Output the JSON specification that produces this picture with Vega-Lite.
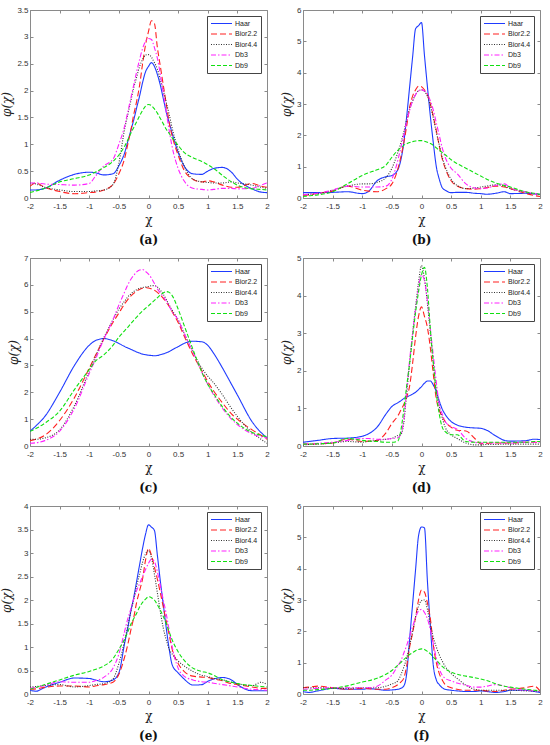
{
  "$schema": "https://vega.github.io/schema/vega-lite/v6.json",
  "padding": {"left": 0, "top": 5, "right": 4, "bottom": 0},
  "background": "white",
  "columns": 2,
  "spacing": {"row": 6, "column": 10},
  "resolve": {
    "scale": {"color": "independent", "strokeDash": "independent"},
    "legend": {"color": "independent", "strokeDash": "independent"}
  },
  "datasets": {
    "a": [
      {"x": -2, "Haar": 0.15, "Bior22": 0.22, "Bior44": 0.28, "Db3": 0.28, "Db9": 0.1},
      {"x": -1.9, "Haar": 0.15, "Bior22": 0.28, "Bior44": 0.26, "Db3": 0.28, "Db9": 0.13},
      {"x": -1.75, "Haar": 0.18, "Bior22": 0.2, "Bior44": 0.2, "Db3": 0.26, "Db9": 0.18},
      {"x": -1.5, "Haar": 0.33, "Bior22": 0.12, "Bior44": 0.15, "Db3": 0.25, "Db9": 0.3},
      {"x": -1.25, "Haar": 0.44, "Bior22": 0.08, "Bior44": 0.12, "Db3": 0.24, "Db9": 0.36},
      {"x": -1, "Haar": 0.48, "Bior22": 0.1, "Bior44": 0.12, "Db3": 0.27, "Db9": 0.43},
      {"x": -0.9, "Haar": 0.47, "Bior22": 0.11, "Bior44": 0.13, "Db3": 0.4, "Db9": 0.48},
      {"x": -0.75, "Haar": 0.43, "Bior22": 0.15, "Bior44": 0.15, "Db3": 0.6, "Db9": 0.57},
      {"x": -0.6, "Haar": 0.45, "Bior22": 0.25, "Bior44": 0.25, "Db3": 0.72, "Db9": 0.68},
      {"x": -0.5, "Haar": 0.6, "Bior22": 0.45, "Bior44": 0.65, "Db3": 1.0, "Db9": 0.8},
      {"x": -0.4, "Haar": 0.85, "Bior22": 0.75, "Bior44": 1.3, "Db3": 1.35, "Db9": 0.97},
      {"x": -0.35, "Haar": 1.05, "Bior22": 1.0, "Bior44": 1.55, "Db3": 1.6, "Db9": 1.08},
      {"x": -0.3, "Haar": 1.25, "Bior22": 1.25, "Bior44": 1.8, "Db3": 1.85, "Db9": 1.2},
      {"x": -0.25, "Haar": 1.45, "Bior22": 1.55, "Bior44": 2.05, "Db3": 2.1, "Db9": 1.31},
      {"x": -0.2, "Haar": 1.68, "Bior22": 1.8, "Bior44": 2.25, "Db3": 2.35, "Db9": 1.42},
      {"x": -0.15, "Haar": 1.9, "Bior22": 2.1, "Bior44": 2.45, "Db3": 2.58, "Db9": 1.53},
      {"x": -0.1, "Haar": 2.15, "Bior22": 2.5, "Bior44": 2.58, "Db3": 2.78, "Db9": 1.63},
      {"x": -0.05, "Haar": 2.35, "Bior22": 2.85, "Bior44": 2.66, "Db3": 2.92, "Db9": 1.71},
      {"x": 0, "Haar": 2.45, "Bior22": 3.1, "Bior44": 2.67, "Db3": 2.97, "Db9": 1.74},
      {"x": 0.05, "Haar": 2.52, "Bior22": 3.3, "Bior44": 2.62, "Db3": 2.95, "Db9": 1.72},
      {"x": 0.1, "Haar": 2.45, "Bior22": 3.25, "Bior44": 2.52, "Db3": 2.8, "Db9": 1.66},
      {"x": 0.15, "Haar": 2.3, "Bior22": 2.8, "Bior44": 2.4, "Db3": 2.6, "Db9": 1.58},
      {"x": 0.2, "Haar": 2.1, "Bior22": 2.45, "Bior44": 2.2, "Db3": 2.3, "Db9": 1.48},
      {"x": 0.25, "Haar": 1.85, "Bior22": 2.1, "Bior44": 2.0, "Db3": 1.95, "Db9": 1.38},
      {"x": 0.3, "Haar": 1.6, "Bior22": 1.75, "Bior44": 1.78, "Db3": 1.6, "Db9": 1.28},
      {"x": 0.35, "Haar": 1.4, "Bior22": 1.4, "Bior44": 1.55, "Db3": 1.25, "Db9": 1.2},
      {"x": 0.4, "Haar": 1.2, "Bior22": 1.15, "Bior44": 1.3, "Db3": 0.95, "Db9": 1.12},
      {"x": 0.5, "Haar": 0.85, "Bior22": 0.8, "Bior44": 0.9, "Db3": 0.55, "Db9": 0.98},
      {"x": 0.6, "Haar": 0.6, "Bior22": 0.52, "Bior44": 0.6, "Db3": 0.32, "Db9": 0.85},
      {"x": 0.75, "Haar": 0.45, "Bior22": 0.35, "Bior44": 0.35, "Db3": 0.18, "Db9": 0.75},
      {"x": 0.9, "Haar": 0.44, "Bior22": 0.3, "Bior44": 0.3, "Db3": 0.16, "Db9": 0.68},
      {"x": 1, "Haar": 0.5, "Bior22": 0.32, "Bior44": 0.29, "Db3": 0.15, "Db9": 0.62},
      {"x": 1.1, "Haar": 0.55, "Bior22": 0.3, "Bior44": 0.28, "Db3": 0.16, "Db9": 0.55},
      {"x": 1.25, "Haar": 0.57, "Bior22": 0.24, "Bior44": 0.28, "Db3": 0.18, "Db9": 0.42},
      {"x": 1.4, "Haar": 0.48, "Bior22": 0.2, "Bior44": 0.3, "Db3": 0.18, "Db9": 0.3},
      {"x": 1.5, "Haar": 0.35, "Bior22": 0.2, "Bior44": 0.28, "Db3": 0.17, "Db9": 0.24},
      {"x": 1.75, "Haar": 0.17, "Bior22": 0.27, "Bior44": 0.24, "Db3": 0.18, "Db9": 0.17},
      {"x": 1.9, "Haar": 0.11, "Bior22": 0.22, "Bior44": 0.2, "Db3": 0.24, "Db9": 0.16},
      {"x": 2, "Haar": 0.1, "Bior22": 0.2, "Bior44": 0.18, "Db3": 0.28, "Db9": 0.15}
    ],
    "b": [
      {"x": -2, "Haar": 0.17, "Bior22": 0.08, "Bior44": 0.1, "Db3": 0.1, "Db9": 0.05},
      {"x": -1.9, "Haar": 0.17, "Bior22": 0.1, "Bior44": 0.12, "Db3": 0.12, "Db9": 0.07},
      {"x": -1.75, "Haar": 0.17, "Bior22": 0.15, "Bior44": 0.14, "Db3": 0.15, "Db9": 0.1},
      {"x": -1.5, "Haar": 0.18, "Bior22": 0.22, "Bior44": 0.25, "Db3": 0.25, "Db9": 0.2},
      {"x": -1.25, "Haar": 0.2, "Bior22": 0.38, "Bior44": 0.38, "Db3": 0.38, "Db9": 0.45},
      {"x": -1, "Haar": 0.14, "Bior22": 0.25, "Bior44": 0.45, "Db3": 0.35, "Db9": 0.72},
      {"x": -0.9, "Haar": 0.2, "Bior22": 0.22, "Bior44": 0.45, "Db3": 0.35, "Db9": 0.8},
      {"x": -0.75, "Haar": 0.55, "Bior22": 0.2, "Bior44": 0.5, "Db3": 0.35, "Db9": 0.9},
      {"x": -0.6, "Haar": 0.68, "Bior22": 0.3, "Bior44": 0.65, "Db3": 0.38, "Db9": 1.05},
      {"x": -0.5, "Haar": 0.72, "Bior22": 0.45, "Bior44": 0.95, "Db3": 0.6, "Db9": 1.3},
      {"x": -0.4, "Haar": 0.9, "Bior22": 0.92, "Bior44": 1.45, "Db3": 1.2, "Db9": 1.52},
      {"x": -0.35, "Haar": 1.2, "Bior22": 1.3, "Bior44": 1.75, "Db3": 1.6, "Db9": 1.6},
      {"x": -0.3, "Haar": 1.75, "Bior22": 1.75, "Bior44": 2.1, "Db3": 2.0, "Db9": 1.68},
      {"x": -0.25, "Haar": 2.6, "Bior22": 2.3, "Bior44": 2.5, "Db3": 2.45, "Db9": 1.73},
      {"x": -0.2, "Haar": 3.55, "Bior22": 2.9, "Bior44": 2.85, "Db3": 2.8, "Db9": 1.77},
      {"x": -0.15, "Haar": 4.5, "Bior22": 3.25, "Bior44": 3.1, "Db3": 3.1, "Db9": 1.8},
      {"x": -0.1, "Haar": 5.4, "Bior22": 3.45, "Bior44": 3.3, "Db3": 3.3, "Db9": 1.82},
      {"x": -0.05, "Haar": 5.5, "Bior22": 3.57, "Bior44": 3.42, "Db3": 3.42, "Db9": 1.83},
      {"x": 0, "Haar": 5.6, "Bior22": 3.55, "Bior44": 3.45, "Db3": 3.45, "Db9": 1.83},
      {"x": 0.05, "Haar": 4.55, "Bior22": 3.45, "Bior44": 3.4, "Db3": 3.42, "Db9": 1.81},
      {"x": 0.1, "Haar": 3.55, "Bior22": 3.3, "Bior44": 3.25, "Db3": 3.32, "Db9": 1.78},
      {"x": 0.15, "Haar": 2.6, "Bior22": 3.0, "Bior44": 2.95, "Db3": 3.1, "Db9": 1.74},
      {"x": 0.2, "Haar": 1.75, "Bior22": 2.6, "Bior44": 2.55, "Db3": 2.8, "Db9": 1.68},
      {"x": 0.25, "Haar": 1.0, "Bior22": 2.15, "Bior44": 2.1, "Db3": 2.4, "Db9": 1.6},
      {"x": 0.3, "Haar": 0.6, "Bior22": 1.66, "Bior44": 1.7, "Db3": 2.0, "Db9": 1.52},
      {"x": 0.35, "Haar": 0.33, "Bior22": 1.25, "Bior44": 1.3, "Db3": 1.6, "Db9": 1.45},
      {"x": 0.4, "Haar": 0.25, "Bior22": 0.95, "Bior44": 1.0, "Db3": 1.3, "Db9": 1.38},
      {"x": 0.5, "Haar": 0.17, "Bior22": 0.55, "Bior44": 0.6, "Db3": 0.95, "Db9": 1.22},
      {"x": 0.6, "Haar": 0.18, "Bior22": 0.38, "Bior44": 0.4, "Db3": 0.78, "Db9": 1.1},
      {"x": 0.75, "Haar": 0.18, "Bior22": 0.3, "Bior44": 0.3, "Db3": 0.45, "Db9": 0.95},
      {"x": 0.9, "Haar": 0.15, "Bior22": 0.28, "Bior44": 0.32, "Db3": 0.32, "Db9": 0.8},
      {"x": 1, "Haar": 0.14, "Bior22": 0.3, "Bior44": 0.35, "Db3": 0.3, "Db9": 0.7},
      {"x": 1.1, "Haar": 0.12, "Bior22": 0.33, "Bior44": 0.38, "Db3": 0.32, "Db9": 0.6},
      {"x": 1.25, "Haar": 0.15, "Bior22": 0.38, "Bior44": 0.42, "Db3": 0.4, "Db9": 0.48},
      {"x": 1.4, "Haar": 0.2, "Bior22": 0.35, "Bior44": 0.38, "Db3": 0.45, "Db9": 0.4},
      {"x": 1.5, "Haar": 0.14, "Bior22": 0.3, "Bior44": 0.3, "Db3": 0.32, "Db9": 0.35},
      {"x": 1.75, "Haar": 0.15, "Bior22": 0.15, "Bior44": 0.2, "Db3": 0.2, "Db9": 0.2},
      {"x": 1.9, "Haar": 0.13, "Bior22": 0.08, "Bior44": 0.14, "Db3": 0.14, "Db9": 0.15},
      {"x": 2, "Haar": 0.12, "Bior22": 0.05, "Bior44": 0.1, "Db3": 0.1, "Db9": 0.12}
    ],
    "c": [
      {"x": -2, "Haar": 0.55, "Bior22": 0.2, "Bior44": 0.25, "Db3": 0.1, "Db9": 0.55},
      {"x": -1.9, "Haar": 0.75, "Bior22": 0.25, "Bior44": 0.25, "Db3": 0.12, "Db9": 0.65},
      {"x": -1.75, "Haar": 1.1, "Bior22": 0.4, "Bior44": 0.3, "Db3": 0.2, "Db9": 0.85},
      {"x": -1.5, "Haar": 2.0, "Bior22": 0.95, "Bior44": 0.6, "Db3": 0.55, "Db9": 1.3},
      {"x": -1.25, "Haar": 3.0, "Bior22": 1.8, "Bior44": 1.5, "Db3": 1.4, "Db9": 2.1},
      {"x": -1, "Haar": 3.75, "Bior22": 2.9, "Bior44": 2.8, "Db3": 2.7, "Db9": 2.85},
      {"x": -0.9, "Haar": 3.92, "Bior22": 3.35, "Bior44": 3.3, "Db3": 3.2, "Db9": 3.15},
      {"x": -0.75, "Haar": 4.0, "Bior22": 4.0, "Bior44": 4.05, "Db3": 4.0, "Db9": 3.4},
      {"x": -0.6, "Haar": 3.92, "Bior22": 4.6, "Bior44": 4.7, "Db3": 4.7, "Db9": 3.75},
      {"x": -0.5, "Haar": 3.82, "Bior22": 4.95, "Bior44": 5.1, "Db3": 5.25, "Db9": 4.05},
      {"x": -0.4, "Haar": 3.7, "Bior22": 5.3, "Bior44": 5.4, "Db3": 5.75, "Db9": 4.3},
      {"x": -0.35, "Haar": 3.65, "Bior22": 5.45, "Bior44": 5.55, "Db3": 6.0, "Db9": 4.42},
      {"x": -0.3, "Haar": 3.6, "Bior22": 5.58, "Bior44": 5.65, "Db3": 6.2, "Db9": 4.55},
      {"x": -0.25, "Haar": 3.55, "Bior22": 5.68, "Bior44": 5.75, "Db3": 6.35, "Db9": 4.68},
      {"x": -0.2, "Haar": 3.5, "Bior22": 5.77, "Bior44": 5.82, "Db3": 6.48, "Db9": 4.8},
      {"x": -0.15, "Haar": 3.46, "Bior22": 5.83, "Bior44": 5.87, "Db3": 6.55, "Db9": 4.92},
      {"x": -0.1, "Haar": 3.42, "Bior22": 5.87, "Bior44": 5.9, "Db3": 6.57, "Db9": 5.03},
      {"x": -0.05, "Haar": 3.4, "Bior22": 5.9, "Bior44": 5.92, "Db3": 6.5, "Db9": 5.13},
      {"x": 0, "Haar": 3.38, "Bior22": 5.88, "Bior44": 5.94, "Db3": 6.4, "Db9": 5.22},
      {"x": 0.05, "Haar": 3.37, "Bior22": 5.85, "Bior44": 5.97, "Db3": 6.25, "Db9": 5.32},
      {"x": 0.1, "Haar": 3.36, "Bior22": 5.8, "Bior44": 5.97, "Db3": 6.05, "Db9": 5.42},
      {"x": 0.15, "Haar": 3.37, "Bior22": 5.72, "Bior44": 5.92, "Db3": 5.85, "Db9": 5.52},
      {"x": 0.2, "Haar": 3.4, "Bior22": 5.62, "Bior44": 5.8, "Db3": 5.7, "Db9": 5.62},
      {"x": 0.25, "Haar": 3.43, "Bior22": 5.5, "Bior44": 5.65, "Db3": 5.55, "Db9": 5.7},
      {"x": 0.3, "Haar": 3.47, "Bior22": 5.35, "Bior44": 5.45, "Db3": 5.4, "Db9": 5.75},
      {"x": 0.35, "Haar": 3.52, "Bior22": 5.2, "Bior44": 5.25, "Db3": 5.2, "Db9": 5.72},
      {"x": 0.4, "Haar": 3.58, "Bior22": 5.0, "Bior44": 5.05, "Db3": 5.0, "Db9": 5.6},
      {"x": 0.5, "Haar": 3.7, "Bior22": 4.6, "Bior44": 4.7, "Db3": 4.7, "Db9": 5.1},
      {"x": 0.6, "Haar": 3.82, "Bior22": 4.1, "Bior44": 4.2, "Db3": 4.2, "Db9": 4.5},
      {"x": 0.75, "Haar": 3.9, "Bior22": 3.4, "Bior44": 3.5, "Db3": 3.5, "Db9": 3.6},
      {"x": 0.9, "Haar": 3.88, "Bior22": 2.8, "Bior44": 2.9, "Db3": 2.75, "Db9": 2.75},
      {"x": 1, "Haar": 3.75, "Bior22": 2.4, "Bior44": 2.6, "Db3": 2.3, "Db9": 2.3},
      {"x": 1.1, "Haar": 3.45, "Bior22": 2.05, "Bior44": 2.35, "Db3": 1.9, "Db9": 1.95},
      {"x": 1.25, "Haar": 2.9, "Bior22": 1.6, "Bior44": 1.9, "Db3": 1.4, "Db9": 1.45},
      {"x": 1.4, "Haar": 2.3, "Bior22": 1.2, "Bior44": 1.4, "Db3": 1.0, "Db9": 1.05},
      {"x": 1.5, "Haar": 1.9, "Bior22": 1.0, "Bior44": 1.1, "Db3": 0.8, "Db9": 0.85},
      {"x": 1.75, "Haar": 0.9, "Bior22": 0.6, "Bior44": 0.5, "Db3": 0.45, "Db9": 0.5},
      {"x": 1.9, "Haar": 0.5, "Bior22": 0.4, "Bior44": 0.25, "Db3": 0.35, "Db9": 0.4},
      {"x": 2, "Haar": 0.3, "Bior22": 0.25, "Bior44": 0.1, "Db3": 0.3, "Db9": 0.35}
    ],
    "d": [
      {"x": -2, "Haar": 0.1, "Bior22": 0.05, "Bior44": 0.03, "Db3": 0.05, "Db9": 0.05},
      {"x": -1.9, "Haar": 0.12, "Bior22": 0.05, "Bior44": 0.04, "Db3": 0.05, "Db9": 0.05},
      {"x": -1.75, "Haar": 0.15, "Bior22": 0.06, "Bior44": 0.05, "Db3": 0.07, "Db9": 0.06},
      {"x": -1.5, "Haar": 0.2, "Bior22": 0.08, "Bior44": 0.08, "Db3": 0.1, "Db9": 0.08},
      {"x": -1.25, "Haar": 0.21, "Bior22": 0.18, "Bior44": 0.12, "Db3": 0.15, "Db9": 0.2},
      {"x": -1, "Haar": 0.26, "Bior22": 0.12, "Bior44": 0.1, "Db3": 0.2, "Db9": 0.15},
      {"x": -0.9, "Haar": 0.32, "Bior22": 0.13, "Bior44": 0.12, "Db3": 0.2, "Db9": 0.13},
      {"x": -0.75, "Haar": 0.5, "Bior22": 0.15, "Bior44": 0.15, "Db3": 0.18, "Db9": 0.12},
      {"x": -0.6, "Haar": 0.85, "Bior22": 0.35, "Bior44": 0.18, "Db3": 0.18, "Db9": 0.1},
      {"x": -0.5, "Haar": 1.05, "Bior22": 0.6, "Bior44": 0.2, "Db3": 0.2, "Db9": 0.1},
      {"x": -0.4, "Haar": 1.15, "Bior22": 0.8, "Bior44": 0.28, "Db3": 0.22, "Db9": 0.13},
      {"x": -0.35, "Haar": 1.2, "Bior22": 0.95, "Bior44": 0.3, "Db3": 0.3, "Db9": 0.4},
      {"x": -0.3, "Haar": 1.26, "Bior22": 1.1, "Bior44": 0.6, "Db3": 0.7, "Db9": 0.95},
      {"x": -0.25, "Haar": 1.3, "Bior22": 1.3, "Bior44": 1.4, "Db3": 1.5, "Db9": 1.6},
      {"x": -0.2, "Haar": 1.34, "Bior22": 1.6, "Bior44": 2.2, "Db3": 2.3, "Db9": 2.2},
      {"x": -0.15, "Haar": 1.38, "Bior22": 2.2, "Bior44": 3.0, "Db3": 3.0, "Db9": 2.9},
      {"x": -0.1, "Haar": 1.43, "Bior22": 2.9, "Bior44": 3.7, "Db3": 3.65, "Db9": 3.55},
      {"x": -0.05, "Haar": 1.5, "Bior22": 3.45, "Bior44": 4.35, "Db3": 4.2, "Db9": 4.1},
      {"x": 0, "Haar": 1.58, "Bior22": 3.7, "Bior44": 4.8, "Db3": 4.55, "Db9": 4.55},
      {"x": 0.05, "Haar": 1.67, "Bior22": 3.45, "Bior44": 4.45, "Db3": 4.4, "Db9": 4.75},
      {"x": 0.1, "Haar": 1.73, "Bior22": 3.15, "Bior44": 3.8, "Db3": 3.85, "Db9": 4.2},
      {"x": 0.15, "Haar": 1.73, "Bior22": 2.6, "Bior44": 3.0, "Db3": 3.1, "Db9": 3.1},
      {"x": 0.2, "Haar": 1.62, "Bior22": 1.9, "Bior44": 2.2, "Db3": 2.4, "Db9": 2.2},
      {"x": 0.25, "Haar": 1.45, "Bior22": 1.25, "Bior44": 1.5, "Db3": 1.7, "Db9": 1.4},
      {"x": 0.3, "Haar": 1.2, "Bior22": 0.95, "Bior44": 1.05, "Db3": 1.1, "Db9": 0.85},
      {"x": 0.35, "Haar": 0.98, "Bior22": 0.78, "Bior44": 0.75, "Db3": 0.85, "Db9": 0.5},
      {"x": 0.4, "Haar": 0.84, "Bior22": 0.65, "Bior44": 0.5, "Db3": 0.65, "Db9": 0.38},
      {"x": 0.5, "Haar": 0.65, "Bior22": 0.5, "Bior44": 0.3, "Db3": 0.52, "Db9": 0.3},
      {"x": 0.6, "Haar": 0.56, "Bior22": 0.42, "Bior44": 0.2, "Db3": 0.45, "Db9": 0.3},
      {"x": 0.75, "Haar": 0.5, "Bior22": 0.4, "Bior44": 0.08, "Db3": 0.2, "Db9": 0.12},
      {"x": 0.9, "Haar": 0.48, "Bior22": 0.2, "Bior44": 0.03, "Db3": 0.1, "Db9": 0.1},
      {"x": 1, "Haar": 0.47, "Bior22": 0.06, "Bior44": 0.03, "Db3": 0.08, "Db9": 0.1},
      {"x": 1.1, "Haar": 0.42, "Bior22": 0.07, "Bior44": 0.04, "Db3": 0.08, "Db9": 0.1},
      {"x": 1.25, "Haar": 0.27, "Bior22": 0.08, "Bior44": 0.04, "Db3": 0.08, "Db9": 0.1},
      {"x": 1.4, "Haar": 0.15, "Bior22": 0.08, "Bior44": 0.05, "Db3": 0.08, "Db9": 0.1},
      {"x": 1.5, "Haar": 0.13, "Bior22": 0.08, "Bior44": 0.05, "Db3": 0.08, "Db9": 0.1},
      {"x": 1.75, "Haar": 0.14, "Bior22": 0.1, "Bior44": 0.05, "Db3": 0.1, "Db9": 0.1},
      {"x": 1.9, "Haar": 0.18, "Bior22": 0.1, "Bior44": 0.05, "Db3": 0.1, "Db9": 0.12},
      {"x": 2, "Haar": 0.17, "Bior22": 0.1, "Bior44": 0.05, "Db3": 0.1, "Db9": 0.12}
    ],
    "e": [
      {"x": -2, "Haar": 0.08, "Bior22": 0.1, "Bior44": 0.15, "Db3": 0.12, "Db9": 0.1},
      {"x": -1.9, "Haar": 0.06, "Bior22": 0.11, "Bior44": 0.16, "Db3": 0.14, "Db9": 0.14},
      {"x": -1.75, "Haar": 0.14, "Bior22": 0.14, "Bior44": 0.18, "Db3": 0.18, "Db9": 0.2},
      {"x": -1.5, "Haar": 0.25, "Bior22": 0.17, "Bior44": 0.2, "Db3": 0.26, "Db9": 0.3},
      {"x": -1.25, "Haar": 0.34, "Bior22": 0.17, "Bior44": 0.15, "Db3": 0.25, "Db9": 0.4},
      {"x": -1, "Haar": 0.33, "Bior22": 0.15, "Bior44": 0.18, "Db3": 0.25, "Db9": 0.48},
      {"x": -0.9, "Haar": 0.3, "Bior22": 0.17, "Bior44": 0.2, "Db3": 0.28, "Db9": 0.52},
      {"x": -0.75, "Haar": 0.26, "Bior22": 0.2, "Bior44": 0.22, "Db3": 0.36, "Db9": 0.6},
      {"x": -0.6, "Haar": 0.3, "Bior22": 0.25, "Bior44": 0.32, "Db3": 0.55, "Db9": 0.75},
      {"x": -0.5, "Haar": 0.45, "Bior22": 0.42, "Bior44": 0.65, "Db3": 0.85, "Db9": 0.95},
      {"x": -0.4, "Haar": 1.1, "Bior22": 0.8, "Bior44": 1.15, "Db3": 1.35, "Db9": 1.18},
      {"x": -0.35, "Haar": 1.4, "Bior22": 1.05, "Bior44": 1.45, "Db3": 1.6, "Db9": 1.32},
      {"x": -0.3, "Haar": 1.75, "Bior22": 1.35, "Bior44": 1.75, "Db3": 1.8, "Db9": 1.48},
      {"x": -0.25, "Haar": 2.05, "Bior22": 1.62, "Bior44": 2.0, "Db3": 2.02, "Db9": 1.6},
      {"x": -0.2, "Haar": 2.4, "Bior22": 1.95, "Bior44": 2.3, "Db3": 2.2, "Db9": 1.72},
      {"x": -0.15, "Haar": 2.75, "Bior22": 2.2, "Bior44": 2.55, "Db3": 2.35, "Db9": 1.85},
      {"x": -0.1, "Haar": 3.1, "Bior22": 2.45, "Bior44": 2.8, "Db3": 2.5, "Db9": 1.95},
      {"x": -0.05, "Haar": 3.4, "Bior22": 2.85, "Bior44": 2.98, "Db3": 2.65, "Db9": 2.02},
      {"x": 0, "Haar": 3.6, "Bior22": 3.1, "Bior44": 3.05, "Db3": 2.78, "Db9": 2.07},
      {"x": 0.05, "Haar": 3.55, "Bior22": 2.95, "Bior44": 2.9, "Db3": 2.87, "Db9": 2.05},
      {"x": 0.1, "Haar": 3.48, "Bior22": 2.7, "Bior44": 2.55, "Db3": 2.82, "Db9": 2.0},
      {"x": 0.15, "Haar": 2.95, "Bior22": 2.44, "Bior44": 2.15, "Db3": 2.6, "Db9": 1.9},
      {"x": 0.2, "Haar": 2.4, "Bior22": 2.15, "Bior44": 1.75, "Db3": 2.3, "Db9": 1.78},
      {"x": 0.25, "Haar": 1.9, "Bior22": 1.85, "Bior44": 1.4, "Db3": 2.0, "Db9": 1.65},
      {"x": 0.3, "Haar": 1.4, "Bior22": 1.55, "Bior44": 1.15, "Db3": 1.7, "Db9": 1.5},
      {"x": 0.35, "Haar": 0.95, "Bior22": 1.25, "Bior44": 0.95, "Db3": 1.35, "Db9": 1.32},
      {"x": 0.4, "Haar": 0.62, "Bior22": 0.95, "Bior44": 0.85, "Db3": 1.0, "Db9": 1.15},
      {"x": 0.5, "Haar": 0.45, "Bior22": 0.65, "Bior44": 0.7, "Db3": 0.55, "Db9": 0.9},
      {"x": 0.6, "Haar": 0.32, "Bior22": 0.48, "Bior44": 0.6, "Db3": 0.38, "Db9": 0.72},
      {"x": 0.75, "Haar": 0.19, "Bior22": 0.38, "Bior44": 0.48, "Db3": 0.3, "Db9": 0.55},
      {"x": 0.9, "Haar": 0.2, "Bior22": 0.36, "Bior44": 0.4, "Db3": 0.26, "Db9": 0.48},
      {"x": 1, "Haar": 0.27, "Bior22": 0.35, "Bior44": 0.37, "Db3": 0.25, "Db9": 0.45},
      {"x": 1.1, "Haar": 0.32, "Bior22": 0.32, "Bior44": 0.33, "Db3": 0.23, "Db9": 0.4},
      {"x": 1.25, "Haar": 0.35, "Bior22": 0.28, "Bior44": 0.3, "Db3": 0.2, "Db9": 0.3},
      {"x": 1.4, "Haar": 0.3, "Bior22": 0.22, "Bior44": 0.25, "Db3": 0.17, "Db9": 0.25},
      {"x": 1.5, "Haar": 0.2, "Bior22": 0.2, "Bior44": 0.22, "Db3": 0.15, "Db9": 0.22},
      {"x": 1.75, "Haar": 0.07, "Bior22": 0.15, "Bior44": 0.18, "Db3": 0.1, "Db9": 0.18},
      {"x": 1.9, "Haar": 0.07, "Bior22": 0.12, "Bior44": 0.25, "Db3": 0.09, "Db9": 0.16},
      {"x": 2, "Haar": 0.07, "Bior22": 0.12, "Bior44": 0.2, "Db3": 0.08, "Db9": 0.15}
    ],
    "f": [
      {"x": -2, "Haar": 0.08, "Bior22": 0.2, "Bior44": 0.2, "Db3": 0.15, "Db9": 0.12},
      {"x": -1.9, "Haar": 0.05, "Bior22": 0.22, "Bior44": 0.2, "Db3": 0.16, "Db9": 0.12},
      {"x": -1.75, "Haar": 0.1, "Bior22": 0.25, "Bior44": 0.2, "Db3": 0.18, "Db9": 0.14},
      {"x": -1.5, "Haar": 0.18, "Bior22": 0.2, "Bior44": 0.18, "Db3": 0.2, "Db9": 0.18},
      {"x": -1.25, "Haar": 0.15, "Bior22": 0.15, "Bior44": 0.18, "Db3": 0.2, "Db9": 0.26},
      {"x": -1, "Haar": 0.15, "Bior22": 0.18, "Bior44": 0.2, "Db3": 0.2, "Db9": 0.38},
      {"x": -0.9, "Haar": 0.17, "Bior22": 0.17, "Bior44": 0.2, "Db3": 0.2, "Db9": 0.42},
      {"x": -0.75, "Haar": 0.15, "Bior22": 0.15, "Bior44": 0.2, "Db3": 0.25, "Db9": 0.5},
      {"x": -0.6, "Haar": 0.12, "Bior22": 0.15, "Bior44": 0.25, "Db3": 0.45, "Db9": 0.63},
      {"x": -0.5, "Haar": 0.13, "Bior22": 0.2, "Bior44": 0.32, "Db3": 0.6, "Db9": 0.75},
      {"x": -0.4, "Haar": 0.15, "Bior22": 0.3, "Bior44": 0.42, "Db3": 0.9, "Db9": 0.92},
      {"x": -0.35, "Haar": 0.18, "Bior22": 0.38, "Bior44": 0.6, "Db3": 1.05, "Db9": 1.0},
      {"x": -0.3, "Haar": 0.25, "Bior22": 0.5, "Bior44": 0.85, "Db3": 1.3, "Db9": 1.1},
      {"x": -0.25, "Haar": 0.65, "Bior22": 0.9, "Bior44": 1.15, "Db3": 1.55, "Db9": 1.18},
      {"x": -0.2, "Haar": 1.77, "Bior22": 1.5, "Bior44": 1.55, "Db3": 1.85, "Db9": 1.26},
      {"x": -0.15, "Haar": 2.87, "Bior22": 1.95, "Bior44": 2.0, "Db3": 2.15, "Db9": 1.32},
      {"x": -0.1, "Haar": 3.97, "Bior22": 2.45, "Bior44": 2.45, "Db3": 2.45, "Db9": 1.38},
      {"x": -0.05, "Haar": 5.05, "Bior22": 3.0, "Bior44": 2.8, "Db3": 2.65, "Db9": 1.42},
      {"x": 0, "Haar": 5.33, "Bior22": 3.32, "Bior44": 2.98, "Db3": 2.7, "Db9": 1.44},
      {"x": 0.05, "Haar": 5.3, "Bior22": 3.25, "Bior44": 3.0, "Db3": 2.6, "Db9": 1.42},
      {"x": 0.1, "Haar": 3.6, "Bior22": 2.9, "Bior44": 2.7, "Db3": 2.4, "Db9": 1.36},
      {"x": 0.15, "Haar": 2.15, "Bior22": 2.4, "Bior44": 2.2, "Db3": 2.05, "Db9": 1.28},
      {"x": 0.2, "Haar": 0.9, "Bior22": 1.55, "Bior44": 1.8, "Db3": 1.6, "Db9": 1.18},
      {"x": 0.25, "Haar": 0.45, "Bior22": 1.0, "Bior44": 1.5, "Db3": 1.15, "Db9": 1.08},
      {"x": 0.3, "Haar": 0.3, "Bior22": 0.65, "Bior44": 1.25, "Db3": 0.8, "Db9": 0.98},
      {"x": 0.35, "Haar": 0.2, "Bior22": 0.45, "Bior44": 1.05, "Db3": 0.6, "Db9": 0.88},
      {"x": 0.4, "Haar": 0.15, "Bior22": 0.3, "Bior44": 0.88, "Db3": 0.5, "Db9": 0.8},
      {"x": 0.5, "Haar": 0.12, "Bior22": 0.2, "Bior44": 0.65, "Db3": 0.42, "Db9": 0.7},
      {"x": 0.6, "Haar": 0.1, "Bior22": 0.15, "Bior44": 0.5, "Db3": 0.35, "Db9": 0.63},
      {"x": 0.75, "Haar": 0.08, "Bior22": 0.12, "Bior44": 0.28, "Db3": 0.28, "Db9": 0.57},
      {"x": 0.9, "Haar": 0.08, "Bior22": 0.12, "Bior44": 0.15, "Db3": 0.22, "Db9": 0.52},
      {"x": 1, "Haar": 0.1, "Bior22": 0.12, "Bior44": 0.12, "Db3": 0.22, "Db9": 0.48},
      {"x": 1.1, "Haar": 0.08, "Bior22": 0.1, "Bior44": 0.12, "Db3": 0.25, "Db9": 0.43},
      {"x": 1.25, "Haar": 0.05, "Bior22": 0.08, "Bior44": 0.12, "Db3": 0.3, "Db9": 0.33},
      {"x": 1.4, "Haar": 0.08, "Bior22": 0.12, "Bior44": 0.12, "Db3": 0.25, "Db9": 0.25},
      {"x": 1.5, "Haar": 0.12, "Bior22": 0.15, "Bior44": 0.12, "Db3": 0.2, "Db9": 0.22},
      {"x": 1.75, "Haar": 0.12, "Bior22": 0.2, "Bior44": 0.1, "Db3": 0.12, "Db9": 0.15},
      {"x": 1.9, "Haar": 0.08, "Bior22": 0.25, "Bior44": 0.09, "Db3": 0.1, "Db9": 0.12},
      {"x": 2, "Haar": 0.05, "Bior22": 0.1, "Bior44": 0.08, "Db3": 0.08, "Db9": 0.1}
    ]
  },
  "concat": [
    {
      "data": {"name": "a"},
      "title": {"text": "(a)"},
      "width": 237, "height": 188,
      "transform": [{"fold": ["Haar", "Bior22", "Bior44", "Db3", "Db9"], "as": ["s", "y"]}],
      "resolve": {"axis": {"x": "independent", "y": "independent"}},
      "layer": [
        {
          "mark": {"type": "line", "strokeWidth": 1.1, "interpolate": "monotone", "clip": true},
          "encoding": {
            "x": {"field": "x", "type": "quantitative", "title": "χ", "scale": {"domain": [-2, 2]}, "axis": {"values": [-2, -1.5, -1, -0.5, 0, 0.5, 1, 1.5, 2], "labelExpr": "replace(format(datum.value, '~g'), '−', '-')"}},
            "y": {"field": "y", "type": "quantitative", "title": "φ(χ)", "scale": {"domain": [0, 3.5]}, "axis": {"values": [0, 0.5, 1, 1.5, 2, 2.5, 3, 3.5], "format": "~g", "titleFontStyle": "italic"}},
            "color": {"field": "s", "type": "nominal", "title": null, "scale": {"domain": ["Haar", "Bior22", "Bior44", "Db3", "Db9"], "range": ["#1f3bff", "#ff2020", "#333333", "#ff20ff", "#10e010"]}, "legend": {"labelExpr": "datum.label == 'Bior22' ? 'Bior2.2' : datum.label == 'Bior44' ? 'Bior4.4' : datum.label"}},
            "strokeDash": {"field": "s", "type": "nominal", "title": null, "scale": {"domain": ["Haar", "Bior22", "Bior44", "Db3", "Db9"], "range": [[1, 0], [6, 3], [1, 1.5], [5, 2, 1.5, 2], [4, 2]]}, "legend": {"labelExpr": "datum.label == 'Bior22' ? 'Bior2.2' : datum.label == 'Bior44' ? 'Bior4.4' : datum.label"}}
          }
        },
        {
          "mark": {"type": "line", "opacity": 0},
          "encoding": {
            "x": {"field": "x", "type": "quantitative", "axis": {"orient": "top", "labels": false, "domain": false, "title": null, "values": [-2, -1.5, -1, -0.5, 0, 0.5, 1, 1.5, 2]}},
            "y": {"field": "y", "type": "quantitative", "axis": {"orient": "right", "labels": false, "domain": false, "title": null, "values": [0, 0.5, 1, 1.5, 2, 2.5, 3, 3.5]}}
          }
        }
      ]
    },
    {
      "data": {"name": "b"},
      "title": {"text": "(b)"},
      "width": 237, "height": 188,
      "transform": [{"fold": ["Haar", "Bior22", "Bior44", "Db3", "Db9"], "as": ["s", "y"]}],
      "resolve": {"axis": {"x": "independent", "y": "independent"}},
      "layer": [
        {
          "mark": {"type": "line", "strokeWidth": 1.1, "interpolate": "monotone", "clip": true},
          "encoding": {
            "x": {"field": "x", "type": "quantitative", "title": "χ", "scale": {"domain": [-2, 2]}, "axis": {"values": [-2, -1.5, -1, -0.5, 0, 0.5, 1, 1.5, 2], "labelExpr": "replace(format(datum.value, '~g'), '−', '-')"}},
            "y": {"field": "y", "type": "quantitative", "title": "φ(χ)", "scale": {"domain": [0, 6]}, "axis": {"values": [0, 1, 2, 3, 4, 5, 6], "format": "~g", "titleFontStyle": "italic"}},
            "color": {"field": "s", "type": "nominal", "title": null, "scale": {"domain": ["Haar", "Bior22", "Bior44", "Db3", "Db9"], "range": ["#1f3bff", "#ff2020", "#333333", "#ff20ff", "#10e010"]}, "legend": {"labelExpr": "datum.label == 'Bior22' ? 'Bior2.2' : datum.label == 'Bior44' ? 'Bior4.4' : datum.label"}},
            "strokeDash": {"field": "s", "type": "nominal", "title": null, "scale": {"domain": ["Haar", "Bior22", "Bior44", "Db3", "Db9"], "range": [[1, 0], [6, 3], [1, 1.5], [5, 2, 1.5, 2], [4, 2]]}, "legend": {"labelExpr": "datum.label == 'Bior22' ? 'Bior2.2' : datum.label == 'Bior44' ? 'Bior4.4' : datum.label"}}
          }
        },
        {
          "mark": {"type": "line", "opacity": 0},
          "encoding": {
            "x": {"field": "x", "type": "quantitative", "axis": {"orient": "top", "labels": false, "domain": false, "title": null, "values": [-2, -1.5, -1, -0.5, 0, 0.5, 1, 1.5, 2]}},
            "y": {"field": "y", "type": "quantitative", "axis": {"orient": "right", "labels": false, "domain": false, "title": null, "values": [0, 1, 2, 3, 4, 5, 6]}}
          }
        }
      ]
    },
    {
      "data": {"name": "c"},
      "title": {"text": "(c)"},
      "width": 237, "height": 188,
      "transform": [{"fold": ["Haar", "Bior22", "Bior44", "Db3", "Db9"], "as": ["s", "y"]}],
      "resolve": {"axis": {"x": "independent", "y": "independent"}},
      "layer": [
        {
          "mark": {"type": "line", "strokeWidth": 1.1, "interpolate": "monotone", "clip": true},
          "encoding": {
            "x": {"field": "x", "type": "quantitative", "title": "χ", "scale": {"domain": [-2, 2]}, "axis": {"values": [-2, -1.5, -1, -0.5, 0, 0.5, 1, 1.5, 2], "labelExpr": "replace(format(datum.value, '~g'), '−', '-')"}},
            "y": {"field": "y", "type": "quantitative", "title": "φ(χ)", "scale": {"domain": [0, 7]}, "axis": {"values": [0, 1, 2, 3, 4, 5, 6, 7], "format": "~g", "titleFontStyle": "italic"}},
            "color": {"field": "s", "type": "nominal", "title": null, "scale": {"domain": ["Haar", "Bior22", "Bior44", "Db3", "Db9"], "range": ["#1f3bff", "#ff2020", "#333333", "#ff20ff", "#10e010"]}, "legend": {"labelExpr": "datum.label == 'Bior22' ? 'Bior2.2' : datum.label == 'Bior44' ? 'Bior4.4' : datum.label"}},
            "strokeDash": {"field": "s", "type": "nominal", "title": null, "scale": {"domain": ["Haar", "Bior22", "Bior44", "Db3", "Db9"], "range": [[1, 0], [6, 3], [1, 1.5], [5, 2, 1.5, 2], [4, 2]]}, "legend": {"labelExpr": "datum.label == 'Bior22' ? 'Bior2.2' : datum.label == 'Bior44' ? 'Bior4.4' : datum.label"}}
          }
        },
        {
          "mark": {"type": "line", "opacity": 0},
          "encoding": {
            "x": {"field": "x", "type": "quantitative", "axis": {"orient": "top", "labels": false, "domain": false, "title": null, "values": [-2, -1.5, -1, -0.5, 0, 0.5, 1, 1.5, 2]}},
            "y": {"field": "y", "type": "quantitative", "axis": {"orient": "right", "labels": false, "domain": false, "title": null, "values": [0, 1, 2, 3, 4, 5, 6, 7]}}
          }
        }
      ]
    },
    {
      "data": {"name": "d"},
      "title": {"text": "(d)"},
      "width": 237, "height": 188,
      "transform": [{"fold": ["Haar", "Bior22", "Bior44", "Db3", "Db9"], "as": ["s", "y"]}],
      "resolve": {"axis": {"x": "independent", "y": "independent"}},
      "layer": [
        {
          "mark": {"type": "line", "strokeWidth": 1.1, "interpolate": "monotone", "clip": true},
          "encoding": {
            "x": {"field": "x", "type": "quantitative", "title": "χ", "scale": {"domain": [-2, 2]}, "axis": {"values": [-2, -1.5, -1, -0.5, 0, 0.5, 1, 1.5, 2], "labelExpr": "replace(format(datum.value, '~g'), '−', '-')"}},
            "y": {"field": "y", "type": "quantitative", "title": "φ(χ)", "scale": {"domain": [0, 5]}, "axis": {"values": [0, 1, 2, 3, 4, 5], "format": "~g", "titleFontStyle": "italic"}},
            "color": {"field": "s", "type": "nominal", "title": null, "scale": {"domain": ["Haar", "Bior22", "Bior44", "Db3", "Db9"], "range": ["#1f3bff", "#ff2020", "#333333", "#ff20ff", "#10e010"]}, "legend": {"labelExpr": "datum.label == 'Bior22' ? 'Bior2.2' : datum.label == 'Bior44' ? 'Bior4.4' : datum.label"}},
            "strokeDash": {"field": "s", "type": "nominal", "title": null, "scale": {"domain": ["Haar", "Bior22", "Bior44", "Db3", "Db9"], "range": [[1, 0], [6, 3], [1, 1.5], [5, 2, 1.5, 2], [4, 2]]}, "legend": {"labelExpr": "datum.label == 'Bior22' ? 'Bior2.2' : datum.label == 'Bior44' ? 'Bior4.4' : datum.label"}}
          }
        },
        {
          "mark": {"type": "line", "opacity": 0},
          "encoding": {
            "x": {"field": "x", "type": "quantitative", "axis": {"orient": "top", "labels": false, "domain": false, "title": null, "values": [-2, -1.5, -1, -0.5, 0, 0.5, 1, 1.5, 2]}},
            "y": {"field": "y", "type": "quantitative", "axis": {"orient": "right", "labels": false, "domain": false, "title": null, "values": [0, 1, 2, 3, 4, 5]}}
          }
        }
      ]
    },
    {
      "data": {"name": "e"},
      "title": {"text": "(e)"},
      "width": 237, "height": 188,
      "transform": [{"fold": ["Haar", "Bior22", "Bior44", "Db3", "Db9"], "as": ["s", "y"]}],
      "resolve": {"axis": {"x": "independent", "y": "independent"}},
      "layer": [
        {
          "mark": {"type": "line", "strokeWidth": 1.1, "interpolate": "monotone", "clip": true},
          "encoding": {
            "x": {"field": "x", "type": "quantitative", "title": "χ", "scale": {"domain": [-2, 2]}, "axis": {"values": [-2, -1.5, -1, -0.5, 0, 0.5, 1, 1.5, 2], "labelExpr": "replace(format(datum.value, '~g'), '−', '-')"}},
            "y": {"field": "y", "type": "quantitative", "title": "φ(χ)", "scale": {"domain": [0, 4]}, "axis": {"values": [0, 0.5, 1, 1.5, 2, 2.5, 3, 3.5, 4], "format": "~g", "titleFontStyle": "italic"}},
            "color": {"field": "s", "type": "nominal", "title": null, "scale": {"domain": ["Haar", "Bior22", "Bior44", "Db3", "Db9"], "range": ["#1f3bff", "#ff2020", "#333333", "#ff20ff", "#10e010"]}, "legend": {"labelExpr": "datum.label == 'Bior22' ? 'Bior2.2' : datum.label == 'Bior44' ? 'Bior4.4' : datum.label"}},
            "strokeDash": {"field": "s", "type": "nominal", "title": null, "scale": {"domain": ["Haar", "Bior22", "Bior44", "Db3", "Db9"], "range": [[1, 0], [6, 3], [1, 1.5], [5, 2, 1.5, 2], [4, 2]]}, "legend": {"labelExpr": "datum.label == 'Bior22' ? 'Bior2.2' : datum.label == 'Bior44' ? 'Bior4.4' : datum.label"}}
          }
        },
        {
          "mark": {"type": "line", "opacity": 0},
          "encoding": {
            "x": {"field": "x", "type": "quantitative", "axis": {"orient": "top", "labels": false, "domain": false, "title": null, "values": [-2, -1.5, -1, -0.5, 0, 0.5, 1, 1.5, 2]}},
            "y": {"field": "y", "type": "quantitative", "axis": {"orient": "right", "labels": false, "domain": false, "title": null, "values": [0, 0.5, 1, 1.5, 2, 2.5, 3, 3.5, 4]}}
          }
        }
      ]
    },
    {
      "data": {"name": "f"},
      "title": {"text": "(f)"},
      "width": 237, "height": 188,
      "transform": [{"fold": ["Haar", "Bior22", "Bior44", "Db3", "Db9"], "as": ["s", "y"]}],
      "resolve": {"axis": {"x": "independent", "y": "independent"}},
      "layer": [
        {
          "mark": {"type": "line", "strokeWidth": 1.1, "interpolate": "monotone", "clip": true},
          "encoding": {
            "x": {"field": "x", "type": "quantitative", "title": "χ", "scale": {"domain": [-2, 2]}, "axis": {"values": [-2, -1.5, -1, -0.5, 0, 0.5, 1, 1.5, 2], "labelExpr": "replace(format(datum.value, '~g'), '−', '-')"}},
            "y": {"field": "y", "type": "quantitative", "title": "φ(χ)", "scale": {"domain": [0, 6]}, "axis": {"values": [0, 1, 2, 3, 4, 5, 6], "format": "~g", "titleFontStyle": "italic"}},
            "color": {"field": "s", "type": "nominal", "title": null, "scale": {"domain": ["Haar", "Bior22", "Bior44", "Db3", "Db9"], "range": ["#1f3bff", "#ff2020", "#333333", "#ff20ff", "#10e010"]}, "legend": {"labelExpr": "datum.label == 'Bior22' ? 'Bior2.2' : datum.label == 'Bior44' ? 'Bior4.4' : datum.label"}},
            "strokeDash": {"field": "s", "type": "nominal", "title": null, "scale": {"domain": ["Haar", "Bior22", "Bior44", "Db3", "Db9"], "range": [[1, 0], [6, 3], [1, 1.5], [5, 2, 1.5, 2], [4, 2]]}, "legend": {"labelExpr": "datum.label == 'Bior22' ? 'Bior2.2' : datum.label == 'Bior44' ? 'Bior4.4' : datum.label"}}
          }
        },
        {
          "mark": {"type": "line", "opacity": 0},
          "encoding": {
            "x": {"field": "x", "type": "quantitative", "axis": {"orient": "top", "labels": false, "domain": false, "title": null, "values": [-2, -1.5, -1, -0.5, 0, 0.5, 1, 1.5, 2]}},
            "y": {"field": "y", "type": "quantitative", "axis": {"orient": "right", "labels": false, "domain": false, "title": null, "values": [0, 1, 2, 3, 4, 5, 6]}}
          }
        }
      ]
    }
  ],
  "config": {
    "view": {"stroke": "#8a8a8a", "strokeWidth": 1},
    "title": {"orient": "bottom", "anchor": "middle", "font": "DejaVu Serif", "fontSize": 12, "fontWeight": "bold", "color": "#111", "offset": 10},
    "axis": {
      "grid": false,
      "labelFont": "Liberation Sans", "labelFontSize": 8, "labelColor": "#333",
      "labelFlush": false,
      "domainColor": "#8a8a8a", "tickColor": "#8a8a8a",
      "tickSize": -3, "labelPadding": 5,
      "titleFont": "DejaVu Serif", "titleFontSize": 12, "titleFontWeight": "normal", "titleColor": "#222", "titlePadding": 3
    },
    "axisX": {"labelPadding": 7, "titlePadding": 4},
    "legend": {
      "orient": "top-right", "offset": 6, "padding": 3,
      "fillColor": "white", "strokeColor": "#444", "cornerRadius": 0,
      "symbolType": "stroke", "symbolSize": 441, "symbolStrokeWidth": 1.1,
      "clipHeight": 9, "rowPadding": 1.5,
      "labelFont": "Liberation Sans", "labelFontSize": 7, "labelColor": "#222", "labelOffset": 2
    }
  }
}
